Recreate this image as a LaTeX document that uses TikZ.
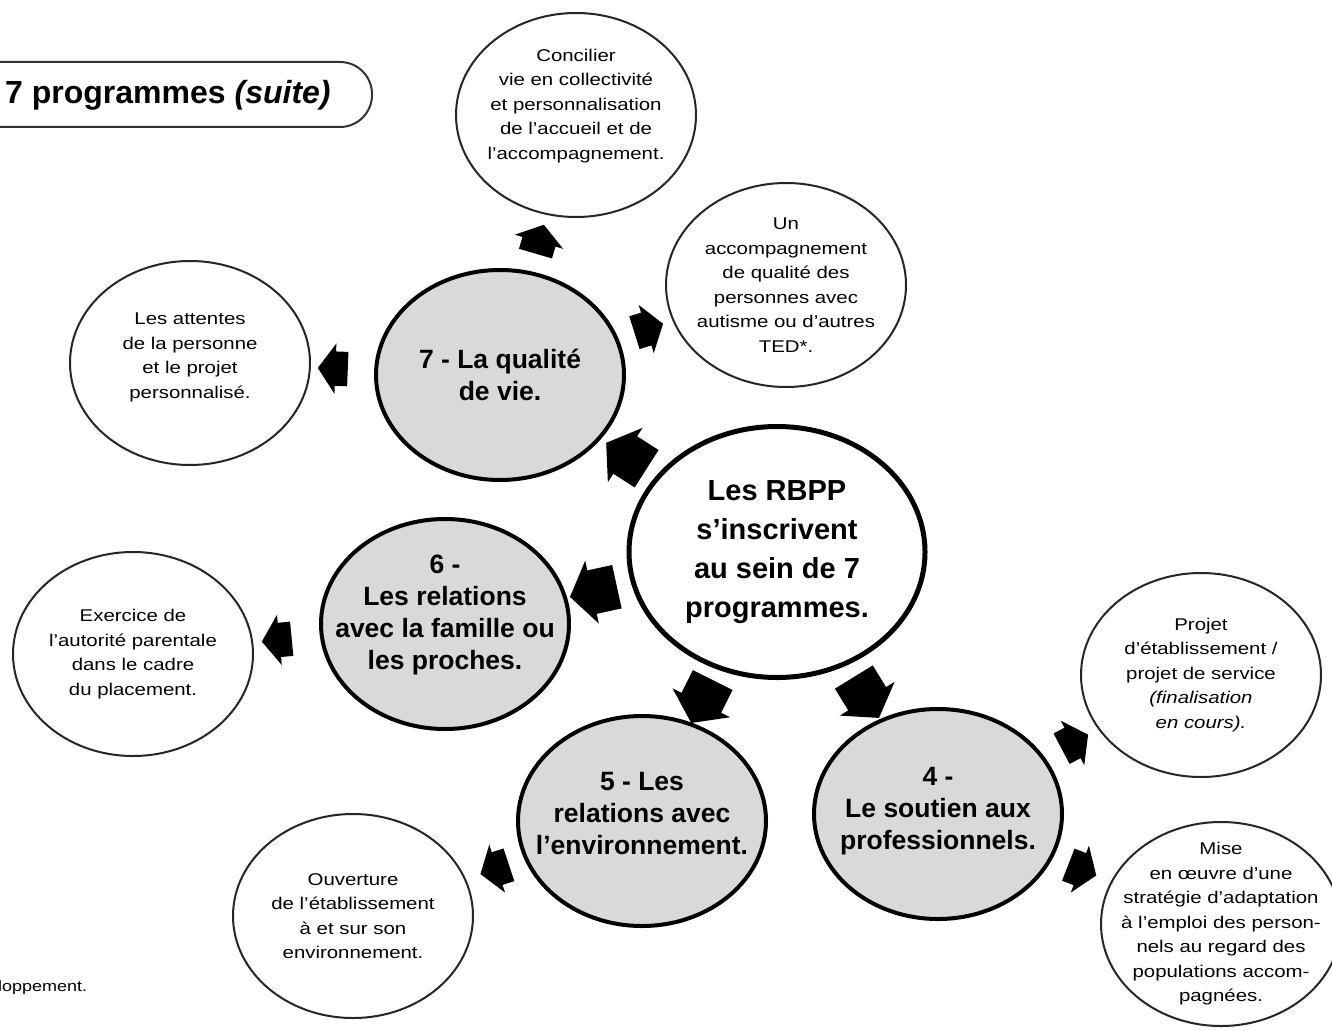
\documentclass[tikz,border=0pt]{standalone}
\usepackage{fontspec}
\setmainfont{Liberation Sans}
\newfontfamily\largefont{Liberation Sans}[FakeStretch=1.2]
\usetikzlibrary{shapes.geometric,shapes.arrows}

\tikzset{
  bulle/.style={ellipse, draw=black!85, line width=2pt, fill=white, minimum width=240pt, minimum height=204pt, inner sep=-30pt, align=center, font=\largefont\fontsize{17}{24.5}\selectfont},
  prog/.style={ellipse, draw=black, line width=4pt, fill=black!15, minimum width=248pt, minimum height=210pt, inner sep=-30pt, align=center, font=\bfseries\fontsize{26.5}{32}\selectfont},
  centre/.style={ellipse, draw=black, line width=5pt, fill=white, minimum width=296pt, minimum height=251pt, inner sep=-30pt, align=center, font=\bfseries\fontsize{29}{39}\selectfont},
  fleche/.style={single arrow, fill=black, inner xsep=0pt, inner ysep=17pt, minimum height=30pt, single arrow head extend=8pt, single arrow tip angle=110, sloped, allow upside down},
  grandefleche/.style={fleche, inner ysep=22pt, minimum height=48pt, single arrow head extend=10pt},
}

\begin{document}
\begin{tikzpicture}[x=1pt, y=-1pt]
    \useasboundingbox (0,0) rectangle (1332,1030);

    % titre
    \draw[line width=2pt, black!80, rounded corners=32pt] (-50,62) rectangle (372,127);
    \node[anchor=west, inner sep=0pt, font=\bfseries\fontsize{32}{38}\selectfont] (titre) at (5,95) {7 programmes \textit{(suite)}};
    \node[anchor=west, inner sep=0pt, font=\largefont\fontsize{15}{18}\selectfont] (pied) at (-2,988) {loppement.};

    % les programmes
    \node[centre] (rbpp) at (777,552) {Les RBPP\\s’inscrivent\\au sein de 7\\programmes.};
    \node[prog] (q7) at (500,375) {7 - La qualité\\de vie.};
    \node[prog] (q6) at (445,624) {6 -\\Les relations\\avec la famille ou\\les proches.\\[-8pt]};
    \node[prog] (q5) at (642,821) {5 - Les\\relations avec\\l’environnement.\\[-16pt]};
    \node[prog] (q4) at (938,814) {4 -\\Le soutien aux\\professionnels.\\[-20pt]};

    % les bulles
    \node[bulle] (concilier) at (576,115) {Concilier\\vie en collectivité\\et personnalisation\\de l’accueil et de\\l’accompagnement.\\[-3pt]};
    \node[bulle] (accomp) at (786,285) {Un\\accompagnement\\de qualité des\\personnes avec\\autisme ou d’autres\\TED*.};
    \node[bulle] (attentes) at (190,363) {Les attentes\\de la personne\\et le projet\\personnalisé.\\[-10pt]};
    \node[bulle] (exercice) at (133,654) {Exercice de\\l’autorité parentale\\dans le cadre\\du placement.};
    \node[bulle] (projet) at (1201,675) {Projet\\d’établissement /\\projet de service\\\textit{(finalisation}\\\textit{en cours).}};
    \node[bulle] (mise) at (1221,924) {Mise\\en œuvre d’une\\stratégie d’adaptation\\à l’emploi des person-\\nels au regard des\\populations accom-\\pagnées.};
    \node[bulle] (ouverture) at (353,916) {Ouverture\\de l’établissement\\à et sur son\\environnement.};

    % fleches
    \path (rbpp.center) -- node[grandefleche, pos=.52] {} (q7.center);
    \path (rbpp.center) -- node[grandefleche, pos=.53] {} (q6.center);
    \path (rbpp.center) -- node[grandefleche, pos=.53] {} (q5.center);
    \path (rbpp.center) -- node[grandefleche, pos=.53] {} (q4.center);
    \path (q7.center) -- node[fleche, pos=.50] {} (concilier.center);
    \path (q7.center) -- node[fleche, pos=.50] {} (accomp.center);
    \path (q7.center) -- node[fleche, pos=.52] {} (attentes.center);
    \path (q6.center) -- node[fleche, pos=.52] {} (exercice.center);
    \path (q5.center) -- node[fleche, pos=.49] {} (ouverture.center);
    \path (q4.center) -- node[fleche, pos=.50] {} (projet.center);
    \path (q4.center) -- node[fleche, pos=.49] {} (mise.center);
\end{tikzpicture}
\end{document}
